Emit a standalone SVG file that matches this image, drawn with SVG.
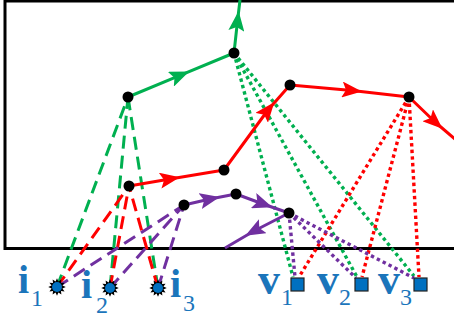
<svg xmlns="http://www.w3.org/2000/svg" width="454" height="322" viewBox="0 0 454 322">
<style>
.frame{fill:none;stroke:#000;stroke-width:3}
.solid{fill:none;stroke-width:3;stroke-linejoin:round}
.dash{fill:none;stroke-width:3;stroke-dasharray:13 7}
.dot{fill:none;stroke-width:3.4;stroke-dasharray:3.4 3.2}
.g{stroke:#00B050}.r{stroke:#FF0000}.p{stroke:#7030A0}
.node{fill:#000}
.sq{fill:#0070C0;stroke:#222;stroke-width:1.2}
.lbl{font-family:"Liberation Serif",serif;font-weight:bold;fill:#1B75BB}
.sub{font-family:"Liberation Serif",serif;fill:#1B75BB}
</style>
<defs>
<marker id="ag" markerUnits="userSpaceOnUse" viewBox="0 0 20 16" refX="10" refY="8" markerWidth="20" markerHeight="16" orient="auto"><path d="M0,0 L20,8 L0,16 L4,8 z" fill="#00B050"/></marker>
<marker id="ar" markerUnits="userSpaceOnUse" viewBox="0 0 20 16" refX="10" refY="8" markerWidth="20" markerHeight="16" orient="auto"><path d="M0,0 L20,8 L0,16 L4,8 z" fill="#FF0000"/></marker>
<marker id="ap" markerUnits="userSpaceOnUse" viewBox="0 0 20 16" refX="10" refY="8" markerWidth="20" markerHeight="16" orient="auto"><path d="M0,0 L20,8 L0,16 L4,8 z" fill="#7030A0"/></marker>
<g id="star" transform="scale(1.25)"><polygon points="7,0 4.35,1.16 6.06,3.5 3.18,3.18 3.5,6.06 1.16,4.35 0,7 -1.16,4.35 -3.5,6.06 -3.18,3.18 -6.06,3.5 -4.35,1.16 -7,0 -4.35,-1.16 -6.06,-3.5 -3.18,-3.18 -3.5,-6.06 -1.16,-4.35 0,-7 1.16,-4.35 3.5,-6.06 3.18,-3.18 6.06,-3.5 4.35,-1.16" fill="#000"/><circle r="4" fill="#0070C0"/></g>
</defs>
<g id="frame"><path class="frame" d="M460,1 L5,1 L5,248.5 L460,248.5"/></g>
<g id="connectors">
<path class="dash g" d="M57,287 L128,97"/>
<path class="dash g" d="M110,288 L128,97"/>
<path class="dash g" d="M158,288 L128,97"/>
<path class="dash r" d="M57,287 L129,186"/>
<path class="dash r" d="M110,288 L129,186"/>
<path class="dash r" d="M158,288 L129,186"/>
<path class="dash p" d="M57,287 L184,205"/>
<path class="dash p" d="M110,288 L184,205"/>
<path class="dash p" d="M158,288 L184,205"/>
<path class="dot g" d="M234,53 L293,277"/>
<path class="dot g" d="M234,53 L357,277"/>
<path class="dot g" d="M234,53 L414,276"/>
<path class="dot r" d="M409,97 L299,277"/>
<path class="dot r" d="M409,97 L362,277"/>
<path class="dot r" d="M409,97 L419,277"/>
<path class="dot p" d="M289,213 L295,277"/>
<path class="dot p" d="M289,213 L356,278"/>
<path class="dot p" d="M289,213 L414,278"/>
<path class="solid g" marker-mid="url(#ag)" d="M128,97 L180,75.4 L234,53"/>
<path class="solid g" marker-mid="url(#ag)" d="M234,53 L237.5,21 L240,0"/>
<path class="solid r" marker-mid="url(#ar)" d="M129,186 L170,179 L224,170"/>
<path class="solid r" marker-mid="url(#ar)" d="M224,170 L268,110 L290,85"/>
<path class="solid r" marker-mid="url(#ar)" d="M290,85 L352,90.5 L409,97"/>
<path class="solid r" marker-mid="url(#ar)" d="M409,97 L435,122 L456,140"/>
<path class="solid p" marker-mid="url(#ap)" d="M184,205 L210,199 L236,194"/>
<path class="solid p" marker-mid="url(#ap)" d="M236,194 L263,204 L289,213"/>
<path class="solid p" marker-mid="url(#ap)" d="M289,213 L254,231 L225,248"/>
</g>
<g id="n1"><circle class="node" cx="128" cy="97" r="5.5"/></g>
<g id="n2"><circle class="node" cx="234" cy="53" r="5.5"/></g>
<g id="r1"><circle class="node" cx="129" cy="186" r="5.5"/></g>
<g id="r2"><circle class="node" cx="224" cy="170" r="5.5"/></g>
<g id="r3"><circle class="node" cx="290" cy="85" r="5.5"/></g>
<g id="r4"><circle class="node" cx="409" cy="97" r="5.5"/></g>
<g id="p1"><circle class="node" cx="184" cy="205" r="5.5"/></g>
<g id="p2"><circle class="node" cx="236" cy="194" r="5.5"/></g>
<g id="p3"><circle class="node" cx="289" cy="213" r="5.5"/></g>
<g id="i1"><use href="#star" x="57" y="287"/><text class="lbl" x="18" y="293" font-size="40">i</text><text class="sub" x="31" y="306" font-size="24">1</text></g>
<g id="i2"><use href="#star" x="110" y="288"/><text class="lbl" x="81" y="298" font-size="40">i</text><text class="sub" x="96" y="313" font-size="24">2</text></g>
<g id="i3"><use href="#star" x="158" y="288"/><text class="lbl" x="170" y="297" font-size="40">i</text><text class="sub" x="183" y="311" font-size="24">3</text></g>
<g id="v1"><rect class="sq" x="291" y="278" width="13" height="13"/><text class="lbl" x="258" y="294" font-size="44">v</text><text class="sub" x="281" y="305" font-size="24">1</text></g>
<g id="v2"><rect class="sq" x="355" y="278" width="13" height="13"/><text class="lbl" x="317" y="294" font-size="44">v</text><text class="sub" x="339" y="305" font-size="24">2</text></g>
<g id="v3"><rect class="sq" x="414" y="278" width="13" height="13"/><text class="lbl" x="378" y="294" font-size="44">v</text><text class="sub" x="400" y="305" font-size="24">3</text></g>
</svg>
